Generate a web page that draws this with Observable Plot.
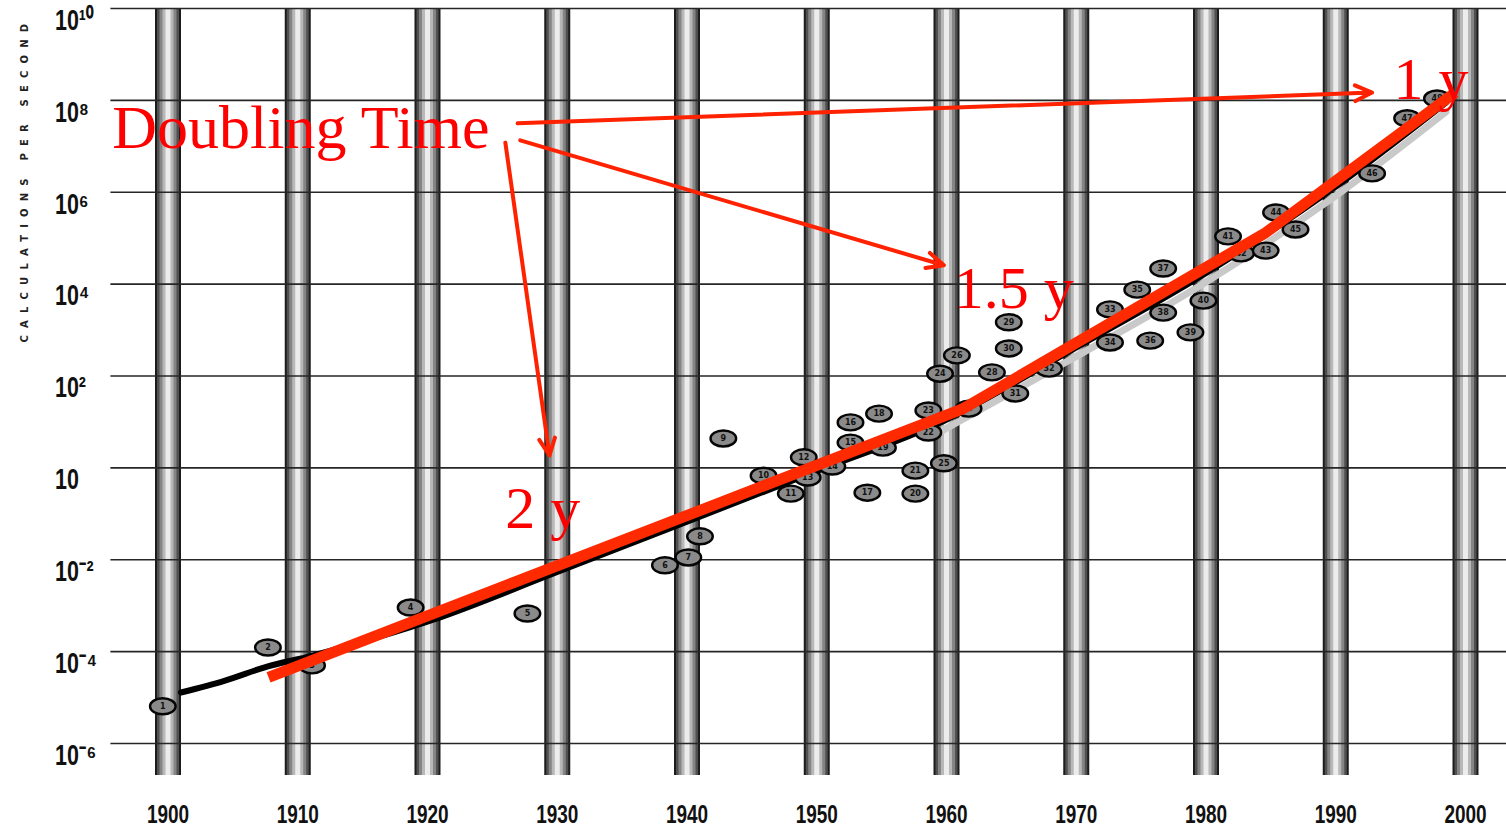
<!DOCTYPE html>
<html>
<head>
<meta charset="utf-8">
<script src="https://cdn.jsdelivr.net/npm/d3@7"></script>
<script src="https://cdn.jsdelivr.net/npm/@observablehq/plot@0.6"></script>
<style>
  html, body { margin: 0; padding: 0; background: #fff; }
</style>
</head>
<body>
<div id="chart"></div>
<script>
// ---------- data ----------
const decades = [1900, 1910, 1920, 1930, 1940, 1950, 1960, 1970, 1980, 1990, 2000];
const yTicks = [1e10, 1e8, 1e6, 1e4, 1e2, 1, 1e-2, 1e-4, 1e-6];
const yTickLabels = ["10¹⁰", "10⁸", "10⁶", "10⁴", "10²", "10", "10⁻²", "10⁻⁴", "10⁻⁶"];
const yTitle = "CALCULATIONS PER SECOND";

// machines (numbered ellipses): year and log10(calculations per second)
const pointLabels = ["1","2","3","4","5","6","7","8","9","10","11","12","13","14","15","16","17","18","19","20","21","22","23","24","25","26","27","28","29","30","31","32","33","34","35","36","37","38","39","40","41","42","43","44","45","46","47","48"];
const pointYears = [1899.6, 1907.7, 1911.1, 1918.7, 1927.7, 1938.3, 1940.1, 1941.0, 1942.8, 1945.9,
  1948.0, 1949.0, 1949.3, 1951.2, 1952.6, 1952.6, 1953.9, 1954.8, 1955.1, 1957.6,
  1957.6, 1958.6, 1958.6, 1959.5, 1959.8, 1960.8, 1961.7, 1963.5, 1964.8, 1964.8,
  1965.3, 1967.9, 1972.6, 1972.6, 1974.7, 1975.7, 1976.7, 1976.7, 1978.8, 1979.8,
  1981.7, 1982.7, 1984.6, 1985.4, 1986.9, 1992.8, 1995.5, 1997.8];
const pointLog10 = [-5.19, -3.91, -4.30, -3.04, -3.17, -2.12, -1.95, -1.49, 0.64, -0.17,
  -0.56, 0.23, -0.21, 0.03, 0.55, 0.99, -0.54, 1.18, 0.44, -0.56,
  -0.06, 0.77, 1.25, 2.05, 0.10, 2.45, 1.29, 2.08, 3.17, 2.60,
  1.62, 2.16, 3.45, 2.73, 3.88, 2.77, 4.34, 3.38, 2.95, 3.64,
  5.04, 4.67, 4.73, 5.56, 5.19, 6.41, 7.61, 8.04];

// black trend curve of the original chart
const trendYears = [1901.0, 1904.4, 1907.7, 1911.2, 1920.5, 1929.7, 1940.0, 1949.9, 1959.7, 1969.6, 1979.7, 1989.6, 1998.5];
const trendLog10 = [-4.89, -4.63, -4.32, -4.08, -3.30, -2.30, -1.17, -0.08, 1.01, 2.56, 4.19, 6.04, 7.95];

// red doubling-time fit
const redYears = [1907.75, 1961.3, 1984.6, 1999.2];
const redLog10 = [-4.56, 1.29, 5.12, 8.17];

// red annotations
const annoTexts = ["Doubling Time", "1 y", "1.5 y", "2 y"];
const annoYears = [1895.7, 1994.45, 1960.55, 1926.0];
const annoLog10 = [6.96, 8.04, 3.49, -1.30];

const arrowX1 = [1926.95, 1927.15, 1926.0];
const arrowY1 = [7.50, 7.13, 7.08];
const arrowX2 = [1992.8, 1959.8, 1929.4];
const arrowY2 = [8.17, 4.41, 0.27];

const gridX1 = 1895.6, gridX2 = 2003.2;   // extent of horizontal grid lines
const barTop = 1e10, barBottom = 2e-7;      // extent of the decade bars

// ---------- tables ----------
const points = pointYears.map((x, i) => ({x, y: 10 ** pointLog10[i], label: pointLabels[i]}));
const trend = trendYears.map((x, i) => ({x, y: 10 ** trendLog10[i]}));
const red = redYears.map((x, i) => ({x, y: 10 ** redLog10[i]}));
const annos = annoTexts.map((t, i) => ({t, x: annoYears[i], y: 10 ** annoLog10[i], size: i === 0 ? 62 : 60}));
const arrows = arrowX1.map((x1, i) => ({x1, y1: 10 ** arrowY1[i], x2: arrowX2[i], y2: 10 ** arrowY2[i]}));
const labelMap = new Map(yTicks.map((v, i) => [v, yTickLabels[i]]));

const ellipse = {
  draw(ctx, size) {
    const r = Math.sqrt(size / Math.PI);
    const a = r * 1.6, b = r, k = 0.5523;
    ctx.moveTo(a, 0);
    ctx.bezierCurveTo(a, k * b, k * a, b, 0, b);
    ctx.bezierCurveTo(-k * a, b, -a, k * b, -a, 0);
    ctx.bezierCurveTo(-a, -k * b, -k * a, -b, 0, -b);
    ctx.bezierCurveTo(k * a, -b, a, -k * b, a, 0);
    ctx.closePath();
  }
};

const sans = "'Liberation Sans', Arial, sans-serif";
const serif = "'Liberation Serif', 'Times New Roman', 'DejaVu Serif', serif";

const barLayers = [[26, "#1c1c1c"], [22, "#505050"], [17, "#858585"], [11, "#b8b8b8"], [5, "#ececec"]];

const chart = Plot.plot({
  width: 1506,
  height: 834,
  marginLeft: 167.5,
  marginRight: 41,
  marginTop: 8,
  marginBottom: 91,
  x: {domain: [1900, 2000], axis: null},
  y: {type: "log", domain: [1e-6, 1e10], axis: null},
  style: {background: "#fff"},
  marks: [
    // decade bars (cylinder look)
    ...barLayers.map(([w, c]) => Plot.ruleX(decades, {x: d => d, y1: barTop, y2: barBottom, stroke: c, strokeWidth: w})),
    // horizontal grid
    Plot.ruleY(yTicks, {y: d => d, x1: gridX1, x2: gridX2, stroke: "#262626", strokeWidth: 1.6}),
    // axes
    Plot.axisY(yTicks, {
      tickSize: 0, tickPadding: 113, textAnchor: "start", dy: 12,
      tickFormat: d => labelMap.get(d),
      fontSize: 29, fontWeight: "bold", fontFamily: sans, fill: "#111"
    }),
    Plot.axisX(decades, {
      tickSize: 0, tickPadding: 62, tickFormat: d => String(d),
      fontSize: 25, fontWeight: "bold", fontFamily: sans, fill: "#111"
    }),
    Plot.text([yTitle], {
      frameAnchor: "top-left", dx: -147.5, dy: 334, rotate: -90, textAnchor: "start",
      fontSize: 10, fontWeight: "bold", fontFamily: "'DejaVu Sans', sans-serif",
      fill: "#222"
    }),
    // shadow + black trend curve
    Plot.line(trend.filter(d => d.x > 1955), {x: "x", y: "y", curve: "catmull-rom", stroke: "#c9c9c9", strokeWidth: 7, dy: 9}),
    Plot.line(trend, {x: "x", y: "y", curve: "catmull-rom", stroke: "#000", strokeWidth: 6}),
    // machines
    Plot.dot(points, {x: "x", y: "y", symbol: ellipse, r: 8, fill: "#8a8a8a", stroke: "#050505", strokeWidth: 2.4}),
    Plot.text(points, {x: "x", y: "y", text: "label", fontSize: 8, fontWeight: "bold", fill: "#111", fontFamily: "'DejaVu Sans', sans-serif"}),
    // red fit
    Plot.line(red, {x: "x", y: "y", stroke: "#ff2a00", strokeWidth: 11, strokeLinejoin: "round", strokeLinecap: "butt"}),
    Plot.arrow(arrows, {x1: "x1", y1: "y1", x2: "x2", y2: "y2", stroke: "#ff2200", strokeWidth: 4, headLength: 7, headAngle: 50, bend: 0}),
    Plot.text(annos, {x: "x", y: "y", text: "t", fontSize: "size", textAnchor: "start", lineAnchor: "bottom", fill: "#ff0000", fontFamily: serif})
  ]
});
document.getElementById("chart").appendChild(chart);

// spaced-out capitals of the vertical axis title
d3.select(chart).selectAll("text").filter(function () { return this.textContent === yTitle; })
  .attr("letter-spacing", 7.2);

// condensed look of the tick labels: squeeze each label around its own anchor
function condense(ariaLabel, s) {
  d3.select(chart).selectAll(`g[aria-label="${ariaLabel}"] text`).each(function () {
    const t = this.getAttribute("transform") || "";
    this.setAttribute("transform", `${t} scale(${s},1)`);
  });
}
condense("x-axis tick label", 0.76);
condense("y-axis tick label", 0.74);
</script>
</body>
</html>
